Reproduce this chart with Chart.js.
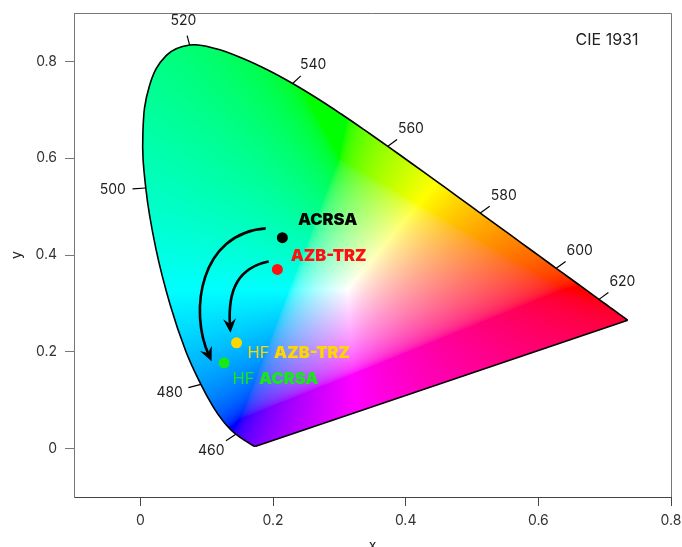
<!DOCTYPE html>
<html><head><meta charset="utf-8">
<script src="https://cdn.jsdelivr.net/npm/chart.js@4/dist/chart.umd.min.js"></script>
<style>html,body{margin:0;padding:0;background:#fff}#wrap{width:682px;height:547px}</style>
</head><body><div id="wrap"><canvas id="c" width="682" height="547"></canvas></div>
<script>
// CIE 1931 spectral locus (wavelength in nm, chromaticity x, y)
const wavelengths = [380,385,390,395,400,405,410,415,420,425,430,435,440,445,450,455,460,465,470,475,480,485,490,495,500,505,510,515,520,525,530,535,540,545,550,555,560,565,570,575,580,585,590,595,600,605,610,615,620,625,630,635,640,645,650,655,660,665,670,675,680,685,690,695,700];
const locusX = [0.1741,0.1740,0.1738,0.1736,0.1733,0.1730,0.1726,0.1721,0.1714,0.1703,0.1689,0.1669,0.1644,0.1611,0.1566,0.1510,0.1440,0.1355,0.1241,0.1096,0.0913,0.0687,0.0454,0.0235,0.0082,0.0039,0.0139,0.0389,0.0743,0.1142,0.1547,0.1929,0.2296,0.2658,0.3016,0.3373,0.3731,0.4087,0.4441,0.4788,0.5125,0.5448,0.5752,0.6029,0.6270,0.6482,0.6658,0.6801,0.6915,0.7006,0.7079,0.7140,0.7190,0.7230,0.7260,0.7283,0.7300,0.7311,0.7320,0.7327,0.7334,0.7340,0.7344,0.7346,0.7347];
const locusY = [0.0050,0.0050,0.0049,0.0049,0.0048,0.0048,0.0048,0.0048,0.0051,0.0058,0.0069,0.0086,0.0109,0.0138,0.0177,0.0227,0.0297,0.0399,0.0578,0.0868,0.1327,0.2007,0.2950,0.4127,0.5384,0.6548,0.7502,0.8120,0.8338,0.8262,0.8059,0.7816,0.7543,0.7243,0.6923,0.6589,0.6245,0.5896,0.5547,0.5202,0.4866,0.4544,0.4242,0.3965,0.3725,0.3514,0.3340,0.3197,0.3083,0.2993,0.2920,0.2859,0.2809,0.2770,0.2740,0.2717,0.2700,0.2689,0.2680,0.2673,0.2666,0.2660,0.2656,0.2654,0.2653];
const labelledWavelengths = [460,480,500,520,540,560,580,600,620];

// Emitters
const sampleNames  = ['ACRSA','AZB-TRZ','HF AZB-TRZ','HF ACRSA'];
const samplePrefix = ['','','HF ','HF '];
const sampleBold   = ['ACRSA','AZB-TRZ','AZB-TRZ','ACRSA'];
const sampleX = [0.2141,0.2066,0.1450,0.1263];
const sampleY = [0.4358,0.3702,0.2186,0.1772];
const sampleColors = ['#000000','#ff1010','#ffd600','#18e818'];
// label anchors (left edge, vertical middle) in chromaticity units
const labelX = [0.2376,0.2266,0.1615,0.1389];
const labelY = [0.4720,0.3977,0.1979,0.1427];

// Curved arrows (cubic Bezier control points, chromaticity units)
const arrowOuterX = [0.1890,0.0898,0.0777,0.1074];
const arrowOuterY = [0.4550,0.4447,0.2709,0.1806];
const arrowInnerX = [0.1935,0.1500,0.1319,0.1359];
const arrowInnerY = [0.3867,0.3743,0.3185,0.2393];

const xTicks = [0,0.2,0.4,0.6,0.8];
const yTicks = [0,0.2,0.4,0.6,0.8];

function xyToRGB(x,y){
  if (y <= 1e-5) return [255,255,255];
  const X = x/y, Y = 1, Z = (1-x-y)/y;
  let r =  3.2406*X - 1.5372*Y - 0.4986*Z;
  let g = -0.9689*X + 1.8758*Y + 0.0415*Z;
  let b =  0.0557*X - 0.2040*Y + 1.0570*Z;
  const mn = Math.min(r,g,b);
  if (mn < 0){ const k = -0.35*mn; r+=k; g+=k; b+=k; }
  r=Math.max(0,r); g=Math.max(0,g); b=Math.max(0,b);
  const m = Math.max(r,g,b);
  const enc = v => v <= 0.0031308 ? 12.92*v : 1.055*Math.pow(v,1/2.4) - 0.055;
  const cl = v => Math.round(255*Math.min(1,Math.max(0,enc(v/m))));
  return [cl(r),cl(g),cl(b)];
}

const colourPlugin = {
  id:'colourFill',
  beforeDatasetsDraw(chart){
    const {ctx, chartArea:a, scales:{x:xs,y:ys}} = chart;
    const w = Math.round(a.right-a.left), h = Math.round(a.bottom-a.top);
    const key = w+'x'+h;
    if (!chart.$img || chart.$imgKey !== key){
      const off = document.createElement('canvas'); off.width = w; off.height = h;
      const octx = off.getContext('2d'); const img = octx.createImageData(w,h);
      for (let j=0;j<h;j++){
        const yv = ys.getValueForPixel(a.top+j+0.5);
        for (let i=0;i<w;i++){
          const xv = xs.getValueForPixel(a.left+i+0.5);
          const c = xyToRGB(xv,yv); const k=(j*w+i)*4;
          img.data[k]=c[0]; img.data[k+1]=c[1]; img.data[k+2]=c[2]; img.data[k+3]=255;
        }
      }
      octx.putImageData(img,0,0); chart.$img = off; chart.$imgKey = key;
    }
    const line = chart.getDatasetMeta(0).dataset;
    line.updateControlPoints(a,'x');
    ctx.save(); ctx.beginPath(); line.path(ctx); ctx.closePath(); ctx.clip();
    ctx.drawImage(chart.$img, a.left, a.top); ctx.restore();
  }
};

function drawArrow(ctx, xs, ys, ax, ay){
  const p = ax.map((v,i)=>[xs.getPixelForValue(v), ys.getPixelForValue(ay[i])]);
  let dx = p[3][0]-p[2][0], dy = p[3][1]-p[2][1];
  const L = Math.hypot(dx,dy); dx/=L; dy/=L;
  const sh = 7;
  ctx.save();
  ctx.strokeStyle = '#000'; ctx.lineWidth = 2.6; ctx.lineCap = 'butt';
  ctx.beginPath(); ctx.moveTo(p[0][0],p[0][1]);
  ctx.bezierCurveTo(p[1][0],p[1][1],p[2][0]-dx*sh,p[2][1]-dy*sh,p[3][0]-dx*sh,p[3][1]-dy*sh);
  ctx.stroke();
  const tx=p[3][0], ty=p[3][1], nx=-dy, ny=dx;
  ctx.fillStyle='#000'; ctx.beginPath();
  ctx.moveTo(tx,ty);
  ctx.lineTo(tx-dx*14+nx*6.5, ty-dy*14+ny*6.5);
  ctx.lineTo(tx-dx*9, ty-dy*9);
  ctx.lineTo(tx-dx*14-nx*6.5, ty-dy*14-ny*6.5);
  ctx.closePath(); ctx.fill();
  ctx.restore();
}

const annotPlugin = {
  id:'annot',
  afterDatasetsDraw(chart){
    const {ctx, chartArea:a, scales:{x:xs,y:ys}} = chart;
    ctx.save();
    ctx.font = '14px Inter'; ctx.fillStyle = '#222'; ctx.textAlign='center'; ctx.textBaseline='middle';
    ctx.strokeStyle = '#000'; ctx.lineWidth = 1.2;
    labelledWavelengths.forEach(wl=>{
      const i = wavelengths.indexOf(wl);
      const tx = locusX[i+1]-locusX[i-1], ty = locusY[i+1]-locusY[i-1];
      let nx = -ty, ny = tx; const n = Math.hypot(nx,ny); nx/=n; ny/=n;
      if ((locusX[i]-0.3333)*nx + (locusY[i]-0.3333)*ny < 0){ nx=-nx; ny=-ny; }
      const x0 = xs.getPixelForValue(locusX[i]), y0 = ys.getPixelForValue(locusY[i]);
      const x1 = xs.getPixelForValue(locusX[i]+nx*0.02), y1 = ys.getPixelForValue(locusY[i]+ny*0.02);
      ctx.beginPath(); ctx.moveTo(x0,y0); ctx.lineTo(x1,y1); ctx.stroke();
      ctx.fillText(String(wl), xs.getPixelForValue(locusX[i]+nx*0.05), ys.getPixelForValue(locusY[i]+ny*0.05));
    });
    drawArrow(ctx, xs, ys, arrowOuterX, arrowOuterY);
    drawArrow(ctx, xs, ys, arrowInnerX, arrowInnerY);
    ctx.textAlign='left'; ctx.textBaseline='middle';
    sampleNames.forEach((nm,i)=>{
      let px = xs.getPixelForValue(labelX[i]); const py = ys.getPixelForValue(labelY[i]);
      ctx.fillStyle = sampleColors[i];
      if (samplePrefix[i]){
        ctx.font = '16.5px Inter'; ctx.fillText(samplePrefix[i], px, py);
        px += ctx.measureText(samplePrefix[i]).width;
      }
      ctx.font = '900 16.5px Inter'; ctx.fillText(sampleBold[i], px, py);
    });
    ctx.restore();
  },
  afterDraw(chart){
    const {ctx, chartArea:a} = chart;
    ctx.save();
    ctx.strokeStyle='#777'; ctx.lineWidth=1;
    ctx.beginPath(); ctx.moveTo(a.left, a.top+0.5); ctx.lineTo(a.right+0.5, a.top+0.5); ctx.lineTo(a.right+0.5, a.bottom); ctx.stroke();
    ctx.fillStyle='#222'; ctx.font='16px Inter'; ctx.textAlign='center'; ctx.textBaseline='middle';
    ctx.fillText('CIE 1931', 607, 40);
    ctx.font='14px Inter'; ctx.fillStyle='#222';
    ctx.fillText('x', (a.left+a.right)/2, 546);
    ctx.translate(17,(a.top+a.bottom)/2); ctx.rotate(-Math.PI/2);
    ctx.fillText('y', 0, 0);
    ctx.restore();
  }
};

const locusData = wavelengths.map((w,i)=>({x:locusX[i], y:locusY[i]}));
const purpleData = [{x:locusX[locusX.length-1], y:locusY[locusY.length-1]},{x:locusX[0], y:locusY[0]}];

new Chart(document.getElementById('c'), {
  type:'scatter',
  data:{ datasets:[
    {data:locusData, showLine:true, borderColor:'#000', borderWidth:1.6, pointRadius:0, tension:0.4, fill:false},
    {data:purpleData, showLine:true, borderColor:'#000', borderWidth:1.6, pointRadius:0, fill:false},
    {data:sampleX.map((v,i)=>({x:v,y:sampleY[i]})), pointRadius:5.5, pointBackgroundColor:sampleColors, pointBorderWidth:0, showLine:false}
  ]},
  options:{
    responsive:false, animation:false, devicePixelRatio:1,
    layout:{padding:{top:13,right:11,left:0,bottom:0}},
    plugins:{legend:{display:false}, tooltip:{enabled:false}},
    scales:{
      x:{type:'linear', min:-0.1, max:0.8,
        afterBuildTicks:s=>{s.ticks = xTicks.map(v=>({value:v}));},
        afterFit:s=>{s.height=50; s.paddingLeft=0; s.paddingRight=0;},
        grid:{drawOnChartArea:false, drawTicks:true, tickLength:9, color:'#444'},
        border:{display:true, color:'#444', width:1},
        ticks:{font:{family:'Inter', size:14}, color:'#333', padding:6, maxRotation:0, callback:v=>String(v)}},
      y:{type:'linear', min:-0.1, max:0.9,
        afterBuildTicks:s=>{s.ticks = yTicks.map(v=>({value:v}));},
        afterFit:s=>{s.width=74; s.paddingTop=0; s.paddingBottom=0;},
        grid:{drawOnChartArea:false, drawTicks:true, tickLength:9, color:'#777'},
        border:{display:true, color:'#777', width:1},
        ticks:{font:{family:'Inter', size:14}, color:'#333', padding:8, callback:v=>String(v)}}
    }
  },
  plugins:[colourPlugin, annotPlugin]
});
</script></body></html>
